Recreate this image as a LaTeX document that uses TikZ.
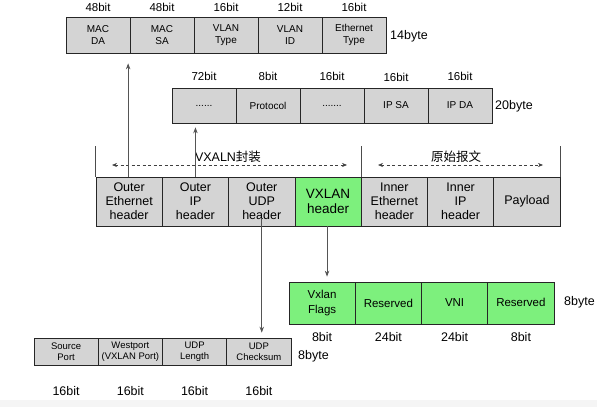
\documentclass[tikz,border=0pt]{standalone}
\usepackage{fontspec}
\setmainfont{Liberation Sans}
\newfontfamily\cjk{Noto Sans CJK SC}
\usetikzlibrary{arrows.meta, positioning, calc}
\definecolor{cellgray}{RGB}{212, 212, 212}
\definecolor{vxgreen}{RGB}{125, 240, 125}
\definecolor{linkgray}{RGB}{85, 85, 85}

\begin{document}
\begin{tikzpicture}[x=1pt, y=-1pt,
  smallcell/.style={draw=black!85, fill=cellgray, line width=0.7pt, minimum width=64pt, minimum height=36pt, inner sep=0pt, align=center, font=\fontsize{10}{11.5}\selectfont},
  hdrcell/.style={draw=black!85, fill=cellgray, line width=0.7pt, minimum width=66.3pt, minimum height=49pt, inner sep=0pt, align=center, font=\fontsize{12.5}{14}\selectfont},
  vxcell/.style={draw=black!85, fill=vxgreen, line width=0.7pt, minimum width=66.25pt, minimum height=42pt, inner sep=0pt, align=center, font=\fontsize{11.5}{14.5}\selectfont},
  udpcell/.style={draw=black!85, fill=cellgray, line width=0.7pt, minimum width=64.25pt, minimum height=27pt, inner sep=0pt, align=center, font=\fontsize{9.5}{11}\selectfont},
  bits/.style={inner sep=0pt, font=\fontsize{11.5}{13}\selectfont},
  bigbits/.style={inner sep=0pt, font=\fontsize{12.5}{14}\selectfont},
  sizelabel/.style={inner sep=0pt, anchor=west, font=\fontsize{12.5}{14}\selectfont},
  link/.style={draw=linkgray, line width=0.8pt, -{Stealth[length=6pt, width=4.5pt]}},
  span/.style={draw=black!75, dash pattern=on 3pt off 2.5pt, line width=0.6pt, {Stealth[length=5pt, width=4pt]}-{Stealth[length=5pt, width=4pt]}},
  tick/.style={draw=black!70, line width=0.6pt}
]
  \useasboundingbox (0,0) rectangle (597,407);
  \fill[black!4] (0,400) rectangle (597,407);

  % outer ethernet header fields
  \node[smallcell] (macda) at (98,35) {MAC\\DA};
  \node[smallcell] (macsa) at (162,35) {MAC\\SA};
  \node[smallcell] (vlantype) at (226,35) {VLAN\\Type};
  \node[smallcell] (vlanid) at (290,35) {VLAN\\ID};
  \node[smallcell] (ethtype) at (354,35) {Ethernet\\Type};
  \node[bits] at (98,7) {48bit};
  \node[bits] at (162,7) {48bit};
  \node[bits] at (226,7) {16bit};
  \node[bits] at (290,7) {12bit};
  \node[bits] at (354,7) {16bit};
  \node[sizelabel] (ethsize) at (390,36) {14byte};

  % outer ip header fields
  \node[smallcell, minimum height=35pt] (ipdots1) at (204,105.5) {......};
  \node[smallcell, minimum height=35pt] (proto) at (268,105.5) {Protocol};
  \node[smallcell, minimum height=35pt] (ipdots2) at (332,105.5) {.......};
  \node[smallcell, minimum height=35pt] (ipsa) at (396,105.5) {IP SA};
  \node[smallcell, minimum height=35pt] (ipda) at (460,105.5) {IP DA};
  \node[bits] at (204,76) {72bit};
  \node[bits] at (268,76) {8bit};
  \node[bits] at (332,76) {16bit};
  \node[bits] at (396,77) {16bit};
  \node[bits] at (460,76) {16bit};
  \node[sizelabel] (ipsize) at (495,106) {20byte};

  % vxlan packet
  \node[hdrcell] (oeth) at (129.15,201.5) {Outer\\Ethernet\\header};
  \node[hdrcell] (oip) at (195.45,201.5) {Outer\\IP\\header};
  \node[hdrcell] (oudp) at (261.75,201.5) {Outer\\UDP\\header};
  \node[hdrcell, fill=vxgreen, font=\fontsize{13.5}{15}\selectfont] (vxhdr) at (328.05,201.5) {VXLAN\\header};
  \node[hdrcell] (ieth) at (394.35,201.5) {Inner\\Ethernet\\header};
  \node[hdrcell] (iip) at (460.65,201.5) {Inner\\IP\\header};
  \node[hdrcell] (payload) at (526.95,201.5) {Payload};

  \draw[tick] (oeth.north west) -- ++(0,-31);
  \draw[tick] (vxhdr.north east) -- ++(0,-31);
  \draw[tick] (payload.north east) -- ++(0,-31);

  \coordinate (encl) at (112,165);
  \coordinate (encr) at (347,165);
  \coordinate (origl) at (378,165);
  \coordinate (origr) at (543,165);
  \draw[span] (encl) -- (encr);
  \draw[span] (origl) -- (origr);
  \node[font=\fontsize{12.5}{14}\selectfont, fill=white, inner sep=1pt] (enclab) at (228,157) {VXALN{\cjk 封装}};
  \node[font=\fontsize{12.5}{14}\selectfont, fill=white, inner sep=1pt] (origlab) at (456,157) {\cjk 原始报文};

  % vxlan header fields
  \node[vxcell] (flags) at (322.1,303) {Vxlan\\Flags};
  \node[vxcell] (resv1) at (388.4,303) {Reserved};
  \node[vxcell] (vni) at (454.6,303) {VNI};
  \node[vxcell] (resv2) at (520.9,303) {\raisebox{2pt}{Reserved}};
  \node[bigbits] at (322.1,337) {8bit};
  \node[bigbits] at (388.4,337) {24bit};
  \node[bigbits] at (454.6,337) {24bit};
  \node[bigbits] at (520.9,337) {8bit};
  \node[sizelabel] (vxsize) at (564,302) {8byte};

  % outer udp header fields
  \node[udpcell] (srcport) at (66.1,351.5) {Source\\Port};
  \node[udpcell] (dstport) at (130.4,351.5) {Westport\\(VXLAN Port)};
  \node[udpcell] (udplen) at (194.6,351.5) {UDP\\Length};
  \node[udpcell] (csum) at (258.9,351.5) {UDP\\Checksum};
  \node[bigbits] at (66.1,391) {16bit};
  \node[bigbits] at (130.4,391) {16bit};
  \node[bigbits] at (194.6,391) {16bit};
  \node[bigbits] at (258.9,391) {16bit};
  \node[sizelabel] (udpsize) at (298,356) {8byte};

  % links between layers
  \draw[link, shorten >=10pt] ([xshift=-1pt]oeth.north) -- ([xshift=-1pt]oeth.north |- macda.south);
  \draw[link, shorten >=4pt] (oip.north) -- (oip.north |- ipdots1.south);
  \draw[link, shorten >=5pt] ([yshift=8pt]oudp.south) -- (oudp.south |- csum.north);
  \draw[link, shorten >=5pt] ([xshift=-1pt]vxhdr.south) -- ([xshift=-1pt]vxhdr.south |- flags.north);
\end{tikzpicture}
\end{document}
